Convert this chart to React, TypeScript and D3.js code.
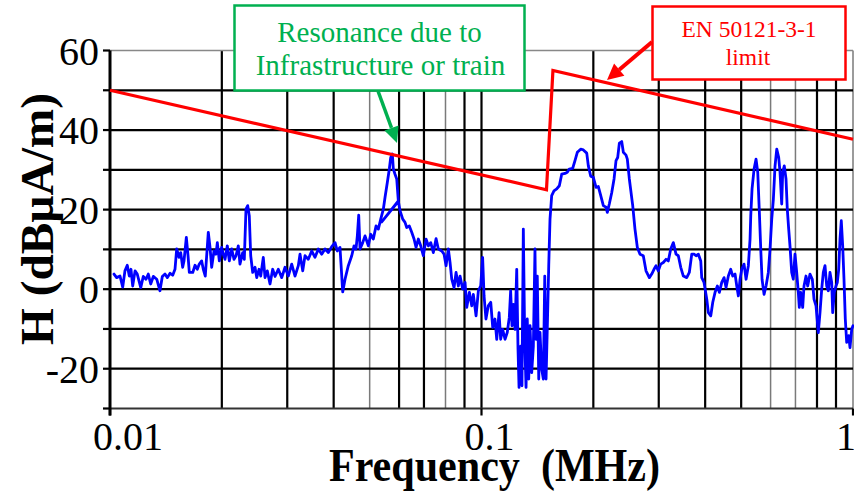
import React from "react";
import * as d3 from "d3";

// ---- Data (frequency in MHz, H in dBµA/m) ----
const traceLow: [number, number][] = [
  [0.01025, 3.8], [0.01042, 2.9], [0.01064, 3.3], [0.01082, 0.5], [0.01097, 4.6],
  [0.01113, 6.0], [0.01127, 3.3], [0.01139, 5.0], [0.01151, 0.8], [0.01168, 4.6],
  [0.01184, 3.8], [0.0121, 0.4], [0.01229, 3.2], [0.0125, 2.5], [0.01268, 3.8],
  [0.01287, 1.3], [0.01308, 3.2], [0.01336, 2.5], [0.01363, -0.4], [0.01383, 3.2],
  [0.01406, 3.8], [0.01427, 2.9], [0.01451, 4.0], [0.01475, 3.5], [0.01496, 5.0],
  [0.01512, 10.1], [0.01534, 8.0], [0.0155, 9.2], [0.01569, 5.5], [0.01582, 7.1],
  [0.01605, 13.0], [0.01622, 8.4], [0.01635, 4.2], [0.0167, 4.2], [0.01694, 6.0],
  [0.01718, 5.0], [0.01739, 6.3], [0.01765, 7.1], [0.01783, 5.0], [0.01805, 3.3],
  [0.01839, 14.3], [0.01859, 10.5], [0.01878, 5.5], [0.01905, 9.6], [0.01929, 8.8],
  [0.01945, 11.7], [0.01969, 7.1], [0.01998, 10.5], [0.02018, 8.8], [0.0204, 7.5],
  [0.02069, 10.9], [0.02095, 7.1], [0.02126, 10.1], [0.02157, 7.5], [0.02184, 8.4],
  [0.02215, 10.9], [0.02238, 6.3], [0.02276, 9.2], [0.02299, 7.5], [0.02323, 20.1],
  [0.02348, 21.0], [0.02371, 18.4], [0.02392, 8.4], [0.02422, 4.2], [0.02457, 5.5],
  [0.02483, 2.9], [0.02518, 5.0], [0.02545, 3.3], [0.02586, 8.0], [0.02614, 2.9],
  [0.02651, 4.6], [0.02696, 1.3], [0.02741, 5.0], [0.02781, 3.2], [0.02838, 5.0],
  [0.02899, 2.9], [0.02959, 5.5], [0.0302, 3.3], [0.03084, 6.3], [0.03148, 3.3],
  [0.03213, 5.9],
];

const traceResonance: [number, number][] = [
  [0.03247, 8.8], [0.03302, 4.6], [0.03349, 8.4], [0.03418, 7.5], [0.03491, 9.6],
  [0.03563, 8.0], [0.03637, 10.1], [0.03714, 8.8], [0.03791, 10.1], [0.0387, 9.2],
  [0.03952, 10.7], [0.04034, 11.7], [0.04091, 9.6], [0.0416, 10.5], [0.04231, -0.7],
  [0.04292, 2.5], [0.0438, 5.9], [0.04474, 8.4], [0.04538, 10.9], [0.04594, 10.1],
  [0.04632, 13.4], [0.04672, 18.6], [0.0471, 10.1], [0.04789, 11.7], [0.04858, 13.4],
  [0.04959, 10.9], [0.05033, 13.8], [0.05115, 12.6], [0.05201, 15.9], [0.05276, 15.1],
  [0.05355, 17.6], [0.05442, 20.1], [0.055, 23.1], [0.05578, 26.8], [0.05648, 30.2],
  [0.05697, 33.1], [0.05754, 34.0], [0.0579, 30.2], [0.05851, 28.9], [0.05913, 27.7],
  [0.05972, 22.2], [0.05388, 16.9], [0.05972, 22.1], [0.06035, 19.7], [0.06137, 17.6],
  [0.06225, 16.8], [0.06291, 15.5], [0.06393, 15.9], [0.06489, 14.3], [0.06583, 12.6],
  [0.06665, 10.5], [0.0676, 12.6], [0.06862, 10.9], [0.06973, 8.4], [0.07091, 12.6],
  [0.07193, 10.9], [0.07301, 11.7], [0.0742, 9.2], [0.07545, 12.7], [0.07653, 10.1],
  [0.07816, 9.6], [0.07929, 8.8], [0.08028, 5.9], [0.08143, 10.1],
];

const traceDip: [number, number][] = [
  [0.08229, 6.7], [0.08316, 2.5], [0.08436, 0.4], [0.08541, 4.2], [0.08663, 0.8],
  [0.08755, 3.3], [0.089, 0.0], [0.09031, 1.7], [0.09126, -4.6], [0.09275, -0.8],
  [0.09413, -4.2], [0.09507, -1.3], [0.09668, -6.7], [0.09807, -0.4], [0.09951, 0.8],
  [0.1007, 8.0], [0.1016, -1.7], [0.1028, -7.5], [0.1043, -4.2], [0.1059, -3.3],
  [0.1072, -9.6], [0.1087, -7.5], [0.1099, -12.6], [0.1115, -5.9], [0.1126, -12.6],
  [0.114, -10.1], [0.1157, -12.6], [0.1173, -10.9], [0.1188, -7.1], [0.1198, -0.4],
  [0.1208, -9.2], [0.1218, -3.8], [0.1231, -10.1], [0.1244, 5.0], [0.1254, -15.1],
  [0.1262, -24.7], [0.1275, -14.3], [0.1285, -24.3], [0.1296, 15.1], [0.1307, -12.6],
  [0.1318, -24.7], [0.1328, -7.5], [0.134, -22.6], [0.1351, -9.2], [0.1365, -21.0],
  [0.1379, -14.3], [0.1393, 10.1], [0.1402, -12.6], [0.1413, 3.3], [0.1426, -22.6],
  [0.1437, -10.9], [0.1452, -20.1], [0.1467, -22.6], [0.148, 3.3], [0.1492, -22.6],
  [0.1504, -9.2], [0.1517, 5.9], [0.1529, 17.6], [0.1545, 23.5], [0.1567, 24.7],
  [0.1594, 25.2], [0.162, 26.0], [0.1644, 28.9], [0.1678, 29.1], [0.1702, 29.4],
  [0.1723, 30.2], [0.176, 30.4], [0.1785, 32.3], [0.1811, 34.4], [0.1849, 35.2],
  [0.188, 35.0], [0.192, 34.2], [0.1939, 31.0], [0.1968, 28.4], [0.2, 28.1],
  [0.2034, 25.6], [0.2063, 25.8], [0.2094, 23.5], [0.2128, 21.0], [0.2164, 20.6],
  [0.2181, 19.3], [0.2208, 21.4], [0.2242, 24.3], [0.2274, 27.7], [0.2302, 32.3],
  [0.2326, 33.1], [0.235, 36.7], [0.2385, 37.1], [0.2409, 34.4], [0.2449, 33.7],
  [0.2469, 32.7], [0.25, 27.7],
];

const traceHigh: [number, number][] = [
  [0.2553, 21.0], [0.2589, 15.1], [0.2627, 10.5], [0.2671, 8.8], [0.2726, 8.4],
  [0.2772, 4.6], [0.283, 2.9], [0.2872, 3.8], [0.2913, 5.0], [0.295, 5.9],
  [0.2992, 4.6], [0.3037, 6.3], [0.3086, 6.7], [0.3138, 7.5], [0.3183, 7.1],
  [0.3231, 10.1], [0.3284, 11.7], [0.3339, 8.8], [0.3387, 8.4], [0.3438, 5.5],
  [0.3494, 3.3], [0.3568, 2.9], [0.3626, 4.2], [0.3681, 8.8], [0.3734, 8.8],
  [0.378, 8.4], [0.3835, 8.8], [0.3892, 7.1], [0.3916, 2.9], [0.3972, 1.7],
  [0.404, -2.5], [0.408, -5.9], [0.4141, -6.7], [0.4193, -3.3], [0.4253, -0.8],
  [0.4314, 0.8], [0.4368, -0.8], [0.4433, 1.7], [0.4497, 2.9], [0.4553, 0.4],
  [0.4618, 3.3], [0.4687, 5.0], [0.4746, 3.3], [0.4814, 3.8], [0.4865, 0.8],
  [0.4914, -1.7], [0.4966, 2.5], [0.5018, 5.0], [0.509, 6.3], [0.5154, 2.5],
  [0.5228, 5.9], [0.5283, 12.6], [0.5306, 18.4], [0.5349, 25.2], [0.5416, 30.2],
  [0.5483, 32.7], [0.5541, 29.4], [0.5597, 19.3], [0.5645, 10.1], [0.5691, 2.5],
  [0.5762, -1.3], [0.5834, 0.8], [0.5917, 4.2], [0.598, 10.1], [0.6043, 17.6],
  [0.6104, 22.6], [0.6168, 31.0], [0.6234, 35.2], [0.631, 33.1], [0.6361, 29.4],
  [0.6428, 21.4], [0.6468, 29.4], [0.6532, 31.0], [0.6602, 27.7], [0.6655, 20.1],
  [0.6713, 15.1], [0.6767, 10.9], [0.6839, 4.2], [0.6907, 2.5], [0.698, 8.8],
  [0.7054, 4.2], [0.7125, -0.8], [0.7169, -4.6], [0.7231, -0.8], [0.7321, -4.6],
  [0.7381, 0.8], [0.7473, 3.3], [0.7552, 0.8], [0.766, 3.8], [0.7771, 2.5],
  [0.7853, -2.5], [0.7951, -4.2], [0.8065, -10.9], [0.815, -5.9], [0.8237, 0.0],
  [0.8319, 4.2], [0.8407, 5.9], [0.8496, 0.8], [0.858, -0.4], [0.8671, 4.2],
  [0.8763, 1.7], [0.8818, -5.9], [0.8906, -0.8], [0.9, 0.8], [0.9073, 1.7],
  [0.9152, 5.0], [0.9226, 12.6], [0.93, 17.2], [0.9381, 10.9], [0.9457, 2.5],
  [0.9534, -7.5], [0.9617, -13.4], [0.9737, -11.7], [0.9816, -14.7], [0.992, -10.1],
  [1.0, -9.2],
];

const limitFreq = [0.01, 0.1496, 0.1557, 1.0];
const limitDb = [50, 25, 55, 37.7];

const yGridValues = [-30, -20, -10, 0, 10, 20, 30, 40, 50, 60];
const yTickLabels = [-20, 0, 20, 40, 60];
const xTickValues = [0.01, 0.1, 1];
const xTickLabels = ["0.01", "0.1", "1"];
const thinGridFreqs = [0.05, 0.08, 0.6, 0.7, 1];

const FONT = '"Liberation Serif", "Times New Roman", Times, "DejaVu Serif", serif';

function arrowHead(x1: number, y1: number, x2: number, y2: number, len: number, hw: number) {
  const dx = x2 - x1, dy = y2 - y1;
  const d = Math.hypot(dx, dy);
  const ux = dx / d, uy = dy / d;
  const bx = x2 - ux * len, by = y2 - uy * len;
  const px = -uy * hw, py = ux * hw;
  return {
    pts: `${x2},${y2} ${bx + px},${by + py} ${bx - px},${by - py}`,
    bx, by,
  };
}

export default function App() {
  const W = 854, H = 492;
  const left = 110, right = 853, top = 50.5, bottom = 408.5;
  const x = d3.scaleLog().domain([0.01, 1]).range([left, right]);
  const y = d3.scaleLinear().domain([-30, 60]).range([bottom, top]);

  const trace = [...traceLow, ...traceResonance, ...traceDip, ...traceHigh];
  const line = d3.line<[number, number]>().x(d => x(d[0])).y(d => y(d[1]));
  const limitPts: [number, number][] = limitFreq.map((f, i) => [f, limitDb[i]]);

  const gridFreqs = x.ticks().filter(f => f > 0.0101);
  const isThin = (f: number) => thinGridFreqs.some(t => Math.abs(t - f) / t < 1e-6);

  const gA = arrowHead(378, 91, 397, 143, 16, 7.5);
  const rA = arrowHead(652, 42, 607, 80, 16, 8);

  const tf = { fontFamily: FONT };

  return (
    <svg width={W} height={H} style={{ position: "absolute", left: 0, top: 0, background: "#fff" }}>
      <rect x={0} y={0} width={W} height={H} fill="#fff" />
      {/* vertical grid */}
      {gridFreqs.map((f, i) => (
        <line key={"vg" + i} x1={x(f)} x2={x(f)} y1={top} y2={bottom}
          stroke={isThin(f) ? "#7a7a7a" : "#000"} strokeWidth={isThin(f) ? 1.5 : 2.2} />
      ))}
      {/* horizontal grid */}
      {yGridValues.map((v, i) => (
        <line key={"hg" + i} x1={left} x2={right} y1={y(v)} y2={y(v)}
          stroke={v === 60 ? "#888" : v === -30 ? "#333" : "#000"}
          strokeWidth={v === 60 ? 1.5 : 2.2} />
      ))}
      {/* left axis ticks */}
      {yGridValues.map((v, i) => (
        <line key={"yt" + i} x1={103} x2={left} y1={y(v)} y2={y(v)} stroke="#000" strokeWidth={2.2} />
      ))}
      {/* bottom axis ticks */}
      {xTickValues.map((f, i) => (
        <line key={"xt" + i} x1={x(f)} x2={x(f)} y1={bottom} y2={bottom + 7} stroke="#000" strokeWidth={2.2} />
      ))}
      <line x1={left} x2={left} y1={top} y2={bottom + 7} stroke="#000" strokeWidth={3} />

      {/* measured trace */}
      <path d={line(trace) || ""} fill="none" stroke="#0000FF" strokeWidth={2.8}
        strokeLinejoin="round" strokeLinecap="round" />
      {/* limit */}
      <path d={line(limitPts) || ""} fill="none" stroke="#FF0000" strokeWidth={3.2}
        strokeLinejoin="miter" />

      {/* tick labels */}
      {yTickLabels.map((v, i) => (
        <text key={"yl" + i} x={99} y={y(v) + 14} textAnchor="end" style={tf} fontSize={40} fill="#000">
          {v}
        </text>
      ))}
      {xTickValues.map((f, i) => (
        <text key={"xl" + i} x={x(f) - 17} y={450} textAnchor="start" style={tf} fontSize={40} fill="#000">
          {xTickLabels[i]}
        </text>
      ))}

      {/* axis titles */}
      <text x={494.5} y={481} textAnchor="middle" fontSize={47} fontWeight="bold"
        textLength={331} lengthAdjust="spacingAndGlyphs" style={{ ...tf, whiteSpace: "pre" }}>
        {"Frequency  (MHz)"}
      </text>
      <text transform="translate(53,219) rotate(-90)" textAnchor="middle" style={tf} fontSize={46}
        fontWeight="bold" textLength={252} lengthAdjust="spacingAndGlyphs">
        H (dBµA/m)
      </text>

      {/* green annotation */}
      <rect x={234.5} y={5.5} width={290} height={85} fill="#fff" stroke="#00B050" strokeWidth={2.5} />
      <text x={379.5} y={42} textAnchor="middle" style={tf} fontSize={29} fill="#00B050">
        Resonance due to
      </text>
      <text x={380.5} y={75} textAnchor="middle" style={tf} fontSize={29} fill="#00B050">
        Infrastructure or train
      </text>
      <line x1={378} y1={91} x2={gA.bx} y2={gA.by} stroke="#00B050" strokeWidth={3.5} />
      <polygon points={gA.pts} fill="#00B050" />

      {/* red annotation */}
      <rect x={652.5} y={6.5} width={193} height={73} fill="#fff" stroke="#FF0000" strokeWidth={2.5} />
      <text x={749} y={37} textAnchor="middle" style={tf} fontSize={23.5} fill="#FF0000">
        EN 50121-3-1
      </text>
      <text x={748} y={65} textAnchor="middle" style={tf} fontSize={23.5} fill="#FF0000">
        limit
      </text>
      <line x1={652} y1={42} x2={rA.bx} y2={rA.by} stroke="#FF0000" strokeWidth={4} />
      <polygon points={rA.pts} fill="#FF0000" />
    </svg>
  );
}
